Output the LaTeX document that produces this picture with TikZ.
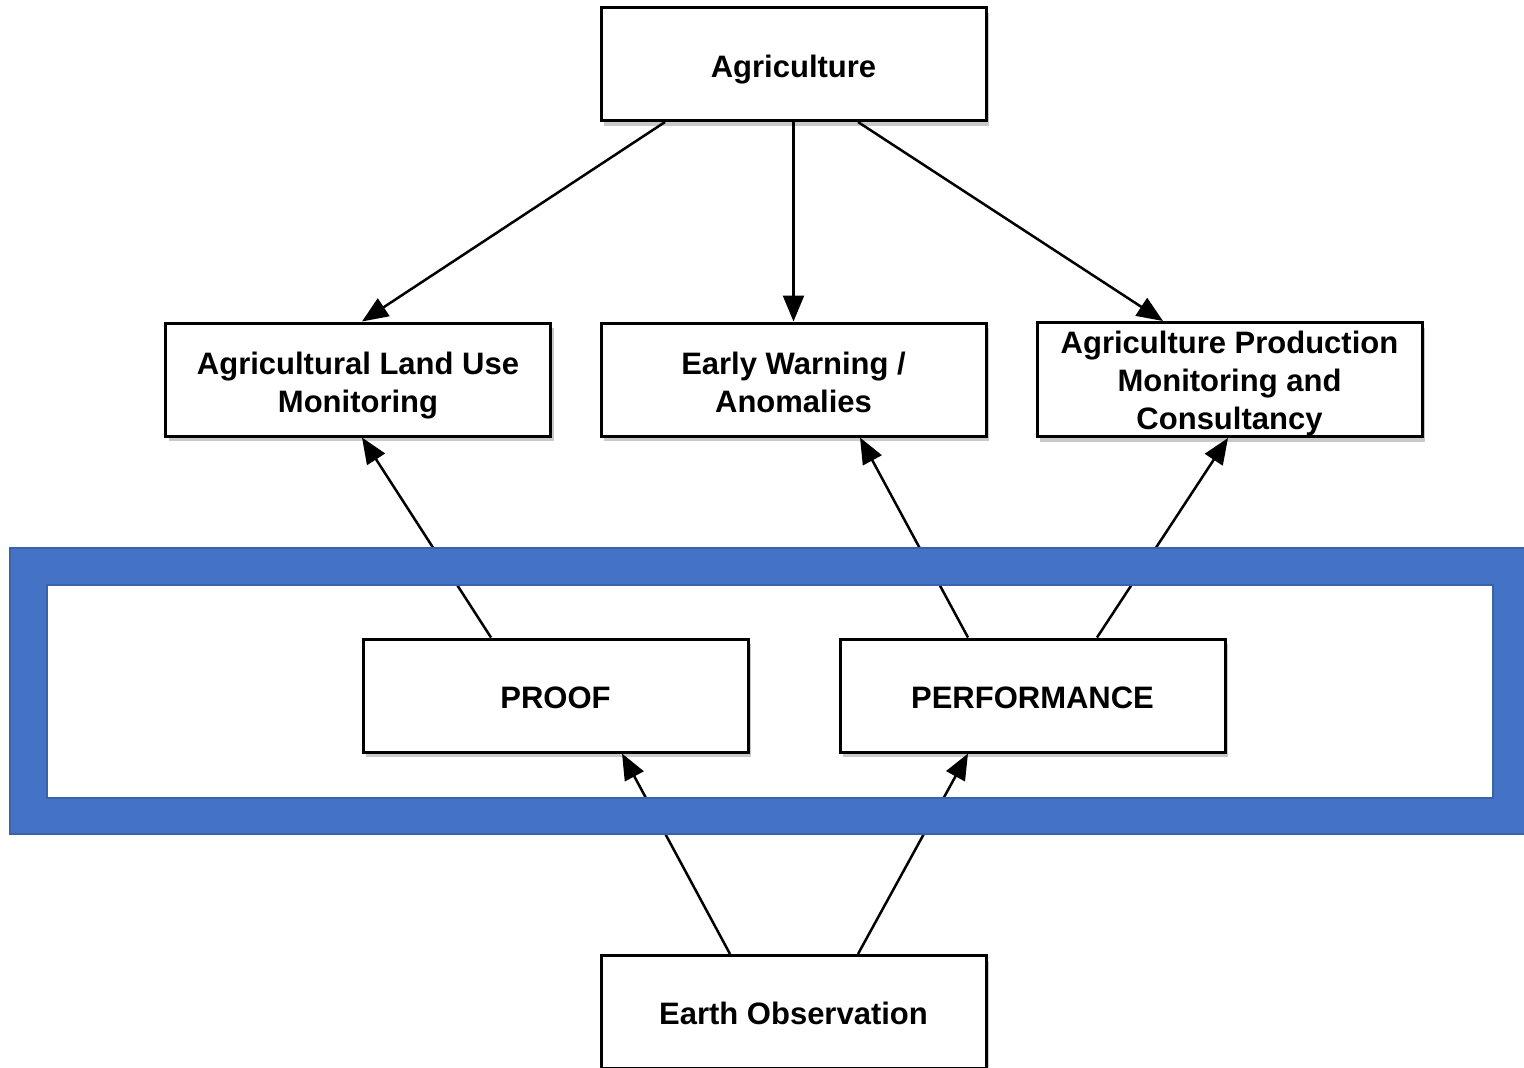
\documentclass[tikz,border=0pt]{standalone}
\usepackage{fontspec}
\setmainfont{Liberation Sans}
\usetikzlibrary{arrows.meta,calc,shadows}
\definecolor{frameblue}{HTML}{4472C4}
\definecolor{frameedge}{HTML}{3A62A8}
\newcommand{\lowtext}[2]{\raisebox{-#1}[\height][\depth]{\begin{tabular}{@{}c@{}}#2\end{tabular}}}
\begin{document}
\begin{tikzpicture}[x=1pt,y=-1pt,
  box/.style={draw=black, line width=3pt, fill=white, minimum width=385pt, minimum height=113pt,
    inner sep=0pt, align=center, font=\fontsize{31}{38}\selectfont\bfseries,
    drop shadow={opacity=0.3, shadow xshift=3pt, shadow yshift=-5pt, fill=black!70}},
  conn/.style={line width=2.5pt, -{Triangle[length=26pt,width=21pt]}}
]
\useasboundingbox (0,0) rectangle (1524,1068);
% nodes
\node[box] (agri)  at (793.5,64)    {\lowtext{6pt}{Agriculture}};
\node[box] (land)  at (358,379.5)   {\lowtext{6pt}{Agricultural Land Use\\Monitoring}};
\node[box] (early) at (793.5,379.5) {\lowtext{6pt}{Early Warning /\\Anomalies}};
\node[box] (prod)  at (1229.5,379.5){\lowtext{4pt}{Agriculture Production\\Monitoring and\\Consultancy}};
\node[box] (proof) at (555.5,695.5) {\lowtext{5pt}{PROOF}};
\node[box] (perf)  at (1032.5,695.5){\lowtext{5pt}{PERFORMANCE}};
\node[box] (eo)    at (793.5,1012)  {\lowtext{5pt}{Earth Observation}};
% connectors
\draw[conn] ($(agri.south)+(-128.5,0)$) -- ($(land.north)+(4,0)$);
\draw[conn] (agri.south) -- (early.north);
\draw[conn] ($(agri.south)+(64.5,0)$) -- ($(prod.north)+(-66.5,0)$);
\draw[conn] ($(proof.north)+(-64.5,0)$) -- ($(land.south)+(4,0)$);
\draw[conn] ($(perf.north)+(-64.5,0)$) -- ($(early.south)+(66.5,0)$);
\draw[conn] ($(perf.north)+(64.5,0)$) -- ($(prod.south)+(-1.5,0)$);
\draw[conn] ($(eo.north)+(-63.5,0)$) -- ($(proof.south)+(66.5,0)$);
\draw[conn] ($(eo.north)+(64.5,0)$) -- ($(perf.south)+(-64.5,0)$);
% blue frame
\fill[frameblue, even odd rule] (10,548) rectangle (1540,834) (47,585) rectangle (1493,798);
\draw[frameedge, line width=1.2pt] (10,548) rectangle (1540,834);
\draw[frameedge, line width=1.2pt] (47,585) rectangle (1493,798);
\end{tikzpicture}
\end{document}
